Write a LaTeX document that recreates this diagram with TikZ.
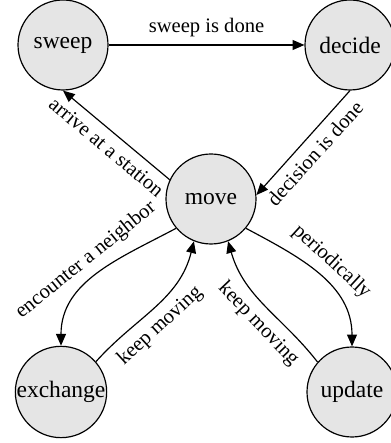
\documentclass[tikz,border=0pt]{standalone}
\usepackage{fontspec}
\setmainfont{Liberation Serif}
\usetikzlibrary{arrows.meta}
\tikzset{
	state/.style={circle, draw, line width=0.5pt, fill=black!10, minimum size=38.25pt, inner sep=0pt, font=\fontsize{10}{12}\selectfont},
	trans/.style={-{Triangle[length=5pt,width=4.2pt]}, line width=0.5pt},
	lbl/.style={font=\fontsize{8.75}{10}\selectfont, sloped}
}
\begin{document}
\begin{tikzpicture}[x=0.425pt,y=0.425pt]
		\useasboundingbox (0,0) rectangle (390,443);

		\node[state] (sweep) at (63,398) {sweep};
		\node[state] (decide) at (350,398) {decide};
		\node[state] (move) at (211,244) {move};
		\node[state] (exchange) at (61,51) {exchange};
		\node[state] (update) at (352,51) {update};

		\draw[trans] (sweep.east) -- node[lbl, above] {sweep is done} (decide.west);
		\draw[trans] (decide.south) -- node[lbl, below] {decision is done} (move.5);
		\draw[trans] (move.155) -- node[lbl, below] {arrive at a station} (sweep.south);

		\draw[trans] (move.220) to[out=208, in=90] node[lbl, above] {encounter a neighbor} (exchange.north);
		\draw[trans] (exchange.41) to[out=48, in=256] node[lbl, below, pos=0.44] {keep moving} (move.248);
		\draw[trans] (move.320) to[out=332, in=90] node[lbl, above] {periodically} (update.north);
		\draw[trans] (update.139) to[out=128, in=286] node[lbl, below, pos=0.44] {keep moving} (move.292);
	\end{tikzpicture}
\end{document}
